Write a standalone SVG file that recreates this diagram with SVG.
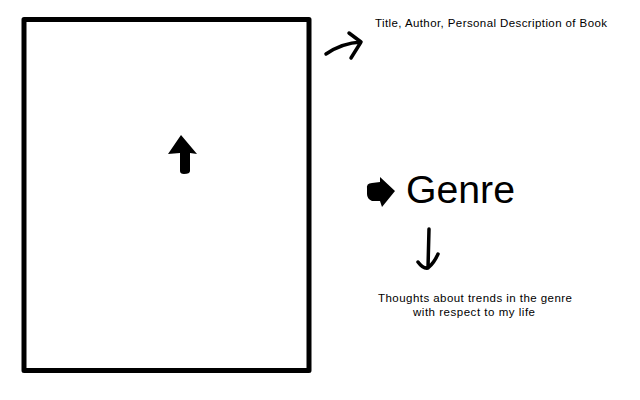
<svg xmlns="http://www.w3.org/2000/svg" width="640" height="400" viewBox="0 0 640 400">
<style>
.txt{font-family:"Liberation Sans",Arial,sans-serif;font-size:11.5px;fill:#000}
.ink{fill:none;stroke:#000;stroke-linecap:round;stroke-linejoin:round}
</style>
<rect width="640" height="400" fill="#fff"/>
<g id="book">
<rect x="24" y="19.5" width="285" height="351" fill="none" stroke="#000" stroke-width="5" stroke-linejoin="round"/>
<path d="M181 135 L168 154 L180 153 L180 171 Q180 174 184 174 Q190 174 190 171 L190 153 L197 154 Z" fill="#000"/>
</g>
<g id="title">
<text class="txt" x="375" y="27" textLength="232" lengthAdjust="spacing">Title, Author, Personal Description of Book</text>
</g>
<g id="genre">
<path d="M367 189 Q366 183 372 183 L380 182 L380 177 L395 191 L382 207 L380 201 L372 201 Q367 199 367 194 Z" fill="#000"/>
<text x="406" y="203" font-family="'Liberation Sans',Arial,sans-serif" font-size="38" fill="#000" textLength="109" lengthAdjust="spacingAndGlyphs">Genre</text>
</g>
<g id="thoughts">
<text class="txt" x="378" y="302" textLength="194" lengthAdjust="spacing">Thoughts about trends in the genre</text>
<text class="txt" x="413" y="316" textLength="122" lengthAdjust="spacing">with respect to my life</text>
</g>
<g id="connectors">
<path class="ink" stroke-width="3.5" d="M326 54 Q342 43 361 42 M349 33 L361 42 L351 58"/>
<path class="ink" stroke-width="3.5" d="M429 229 L428 268 M418 262 Q423 269 428 268 Q434 263 438 254"/>
</g>
</svg>
